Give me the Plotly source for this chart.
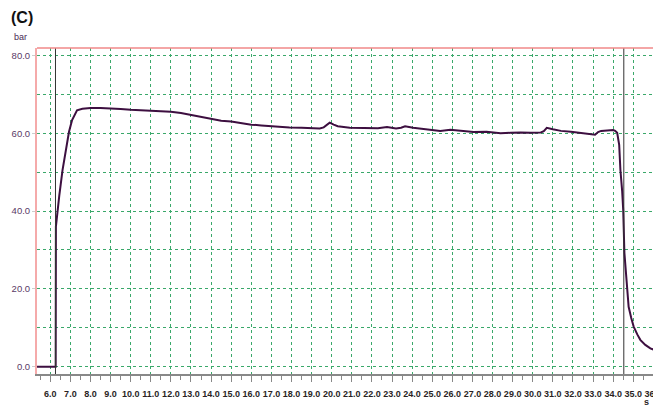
import plotly.graph_objects as go

t = [5.34, 6.27, 6.28, 6.33, 6.45, 6.61, 6.78, 6.93, 7.08, 7.33, 7.6, 8.0, 8.5, 9.0, 9.5,
     10.0, 10.5, 11.0, 11.5, 12.0, 12.5, 13.0, 13.5, 14.0, 14.5, 15.0, 15.5, 16.0, 16.5,
     17.0, 17.5, 17.9, 18.5, 19.0, 19.4, 19.6, 19.8, 19.9, 20.1, 20.3, 20.9, 21.4, 21.9,
     22.3, 22.75, 23.2, 23.45, 23.65, 24.05, 24.5, 24.9, 25.4, 25.9, 26.5, 27.06, 27.7,
     28.4, 28.9, 29.4, 29.9, 30.4, 30.55, 30.7, 31.0, 31.4, 31.9, 32.4, 32.8, 33.1, 33.25,
     33.4, 33.7, 34.0, 34.1, 34.2, 34.3, 34.36, 34.45, 34.5, 34.56, 34.66, 34.77, 34.9,
     35.02, 35.2, 35.35, 35.6, 35.85, 36.1, 36.38]
pressure = [0, 0, 36, 38.5, 44, 50.5, 56, 60.3, 63.3, 65.9, 66.3, 66.5, 66.5, 66.4, 66.2,
            66.0, 65.9, 65.7, 65.6, 65.5, 65.2, 64.7, 64.2, 63.6, 63.2, 63.0, 62.6, 62.2, 62.0,
            61.8, 61.7, 61.5, 61.4, 61.3, 61.2, 61.5, 62.3, 62.7, 62.2, 61.8, 61.4, 61.3, 61.2,
            61.3, 61.6, 61.2, 61.4, 61.8, 61.4, 61.1, 60.9, 60.6, 60.9, 60.6, 60.3, 60.4,
            60.0, 60.1, 60.2, 60.1, 60.2, 60.5, 61.4, 61.0, 60.6, 60.4, 60.0, 59.8, 59.6, 60.3,
            60.6, 60.7, 60.8, 60.6, 60.1, 57, 50.6, 45, 40.3, 29.2, 22.3, 15.4, 12.5,
            10.3, 8.3, 6.9, 5.6, 4.7, 4.2, 3.9]
markers_t = [6.26, 34.53]
x_ticks = [float(v) for v in range(6, 37)]
y_ticks = [0, 20, 40, 60, 80]

grid_green = "#3aa86a"
fig = go.Figure()
fig.add_trace(go.Scatter(x=t, y=pressure, mode="lines",
                         line=dict(color="#3d0f40", width=2), showlegend=False))

for m in markers_t:
    fig.add_shape(type="line", xref="x", yref="paper", x0=m, x1=m, y0=0, y1=1,
                  line=dict(color="#333333", width=1))
fig.add_shape(type="line", xref="paper", yref="paper", x0=0, x1=1, y0=1, y1=1,
              line=dict(color="#f08888", width=1.5))

# page body has an 8px margin; figure is sized so the plot lands where the reference has it
fig.update_layout(
    width=661, height=399,
    margin=dict(l=29, r=8, t=40, b=33),
    paper_bgcolor="white", plot_bgcolor="white",
    font=dict(family="Liberation Sans, Arial", size=10),
    xaxis=dict(range=[5.34, 36.38], tickvals=x_ticks,
               ticktext=[f"{v:.1f}" for v in x_ticks],
               tickangle=0, automargin=False, ticklabelstandoff=4,
               ticklabeloverflow="allow",
               showgrid=True, gridcolor=grid_green, griddash="3px,3px", gridwidth=1,
               showline=True, linecolor="#888888", linewidth=1.5,
               ticks="outside", ticklen=6, tickcolor="#888888",
               tickfont=dict(size=9, color="#2a1f1f", weight="bold",
                             family="Liberation Sans, Arial"),
               minor=dict(dtick=0.5, tick0=0, ticks="outside", ticklen=4, tickcolor="#888888",
                          showgrid=False),
               zeroline=False),
    yaxis=dict(range=[-1.88, 81.9], tickvals=y_ticks,
               ticktext=[f"{v:.1f}" for v in y_ticks],
               automargin=False,
               showgrid=True, gridcolor=grid_green, griddash="dot", gridwidth=1,
               minor=dict(dtick=10, tick0=0, showgrid=True, gridcolor=grid_green,
                          griddash="dot", gridwidth=1),
               showline=True, linecolor="#f5aaaa", linewidth=2,
               ticks="outside", ticklen=3, tickcolor="#cccccc",
               tickfont=dict(size=9.5, color="#5a3a66",
                             family="Liberation Sans, Arial"),
               zeroline=False),
)
fig.add_annotation(text="<b>(C)</b>", xref="paper", yref="paper", x=-0.045, y=1,
                   xanchor="left", yanchor="bottom", yshift=20, showarrow=False,
                   font=dict(size=16, color="#111111", family="Liberation Sans, Arial"))
fig.add_annotation(text="bar", xref="paper", yref="paper", x=-0.04, y=1,
                   xanchor="left", yanchor="bottom", yshift=4, showarrow=False,
                   font=dict(size=9, color="#4a2a55", family="Liberation Sans, Arial"))
fig.add_annotation(text="<b>s</b>", xref="paper", yref="paper", x=0.977, y=0,
                   xanchor="center", yanchor="top", yshift=-21, showarrow=False,
                   font=dict(size=9, color="#2a1f1f", family="Liberation Sans, Arial"))
fig.write_html("out.html")
